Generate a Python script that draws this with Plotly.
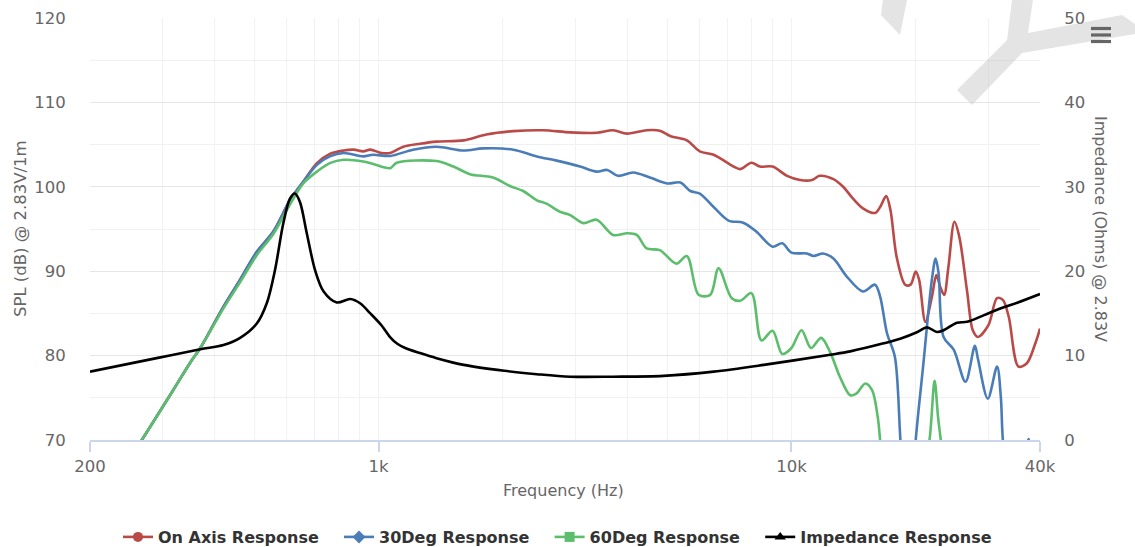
import plotly.graph_objects as go

# ---------------- data ----------------
on_axis_freq = [200, 240, 267, 290, 318, 349, 370, 421, 462, 507, 556, 610, 657, 709, 762, 823, 870, 918,
                955, 1016, 1066, 1148, 1260, 1382, 1608, 1824, 2120, 2500, 2912, 3374, 3700, 4000, 4460,
                4800, 5100, 5580, 6000, 6480, 7240, 7520, 8000, 8390, 9000, 9760, 10500, 11220, 11700,
                12640, 13340, 14100, 14900, 15940, 16400, 16960, 17370, 17980, 18860, 19430, 20000,
                20380, 21100, 21900, 22440, 22980, 23440, 24000, 24820, 25500, 26640, 27500, 28300,
                30000, 31480, 32520, 33600, 35480, 37180, 39000, 40000]
on_axis_spl = [61, 66.5, 70, 72.8, 75.9, 79.1, 80.9, 85.8, 89.0, 92.3, 94.7, 98.4, 100.6, 102.8, 103.9, 104.3,
               104.4, 104.2, 104.4, 104.0, 104.0, 104.75, 105.1, 105.35, 105.5, 106.2, 106.6, 106.7, 106.45,
               106.4, 106.7, 106.3, 106.7, 106.65, 106.0, 105.5, 104.2, 103.8, 102.4, 102.1, 102.85, 102.4,
               102.4, 101.3, 100.8, 100.8, 101.3, 100.9, 100.0, 98.6, 97.45, 96.9, 97.6, 98.9, 97.25, 91.7,
               88.4, 88.4, 89.95, 89.0, 84.0, 87.0, 89.55, 88.0, 87.2, 90.5, 95.85, 94.1, 87.6, 83.0, 82.2,
               83.6, 86.8, 86.6, 84.6, 78.7, 79.1, 81.5, 83.2]

deg30_freq = [200, 240, 267, 318, 349, 370, 421, 462, 507, 556, 610, 657, 709, 762, 823, 918, 970, 1066,
              1212, 1382, 1608, 1790, 2120, 2418, 2700, 3076, 3374, 3580, 3800, 4140, 4540, 5000, 5380,
              5690, 6000, 6480, 7040, 7640, 8220, 9000, 9500, 10000, 10900, 11320, 11930, 12640, 13600,
              14900, 15940, 16400, 17040, 17800, 18340, 18800, 19500, 20000, 20840, 21900, 22350, 22720,
              23360, 24720, 26400, 27820, 28300, 29900, 31480, 32150, 32520, 34000, 36500, 37550, 38500,
              40000]
deg30_spl = [61, 66.5, 70, 75.9, 79.1, 80.9, 85.8, 89.0, 92.3, 94.7, 98.4, 100.6, 102.6, 103.6, 104.0, 103.6,
             103.8, 103.65, 104.4, 104.75, 104.3, 104.55, 104.4, 103.6, 103.1, 102.4, 101.8, 102.0, 101.3,
             101.7, 101.1, 100.4, 100.5, 99.5, 99.2, 97.6, 96.0, 95.75, 94.7, 92.9, 93.3, 92.2, 92.1, 91.8,
             92.1, 91.5, 89.4, 87.6, 88.4, 87.0, 82.65, 79.9, 70.5, 62, 62, 70, 78.7, 89.1, 91.5, 89.75,
             82.2, 80.7, 76.9, 81.15, 79.6, 74.9, 78.7, 75.1, 70.0, 62, 66, 70.1, 64, 60]

deg60_freq = [200, 240, 267, 318, 349, 370, 421, 462, 507, 556, 610, 657, 709, 762, 823, 918, 970, 1066,
              1106, 1382, 1518, 1664, 1892, 2080, 2240, 2418, 2550, 2750, 2912, 3134, 3374, 3700, 4000,
              4220, 4460, 4800, 5260, 5580, 5960, 6360, 6660, 7170, 7520, 8000, 8460, 9000, 9500, 10000,
              10580, 11150, 11800, 12400, 13100, 13880, 14360, 15100, 15680, 16180, 16400, 17000, 20000,
              21600, 22220, 22650, 23000, 24000, 30000, 40000]
deg60_spl = [61, 66.5, 70, 75.9, 79.1, 80.9, 85.6, 88.7, 91.9, 94.4, 97.9, 100.4, 101.8, 102.8, 103.2, 103.0,
             102.7, 102.2, 102.85, 103.05, 102.4, 101.5, 101.1, 100.1, 99.5, 98.4, 98.0, 97.05, 96.65, 95.7,
             96.1, 94.3, 94.5, 94.3, 92.7, 92.5, 90.9, 91.8, 87.2, 87.2, 90.35, 86.8, 86.5, 87.4, 81.8,
             82.95, 80.2, 80.9, 83.0, 80.9, 82.1, 80.45, 77.5, 75.3, 75.5, 76.7, 75.9, 72.75, 70, 62, 60,
             70, 77.0, 72.75, 70, 62, 58, 58]

imp_freq = [200, 290, 370, 421, 462, 507, 536, 561, 588, 610, 627, 645, 670, 702, 736, 792, 854, 902, 955,
            1016, 1066, 1110, 1160, 1260, 1382, 1608, 2015, 2418, 2912, 3700, 4900, 6480, 8570, 12420,
            13880, 16720, 18340, 20200, 21280, 22520, 23360, 25180, 26640, 29280, 32160, 35360, 40000]
imp_ohm = [8.1, 9.7, 10.75, 11.25, 12.1, 13.8, 16.2, 20.1, 25.7, 28.6, 29.2, 28.2, 24.5, 20.1, 17.6, 16.3,
           16.7, 16.2, 15.0, 13.6, 12.2, 11.4, 10.9, 10.3, 9.7, 8.9, 8.2, 7.8, 7.5, 7.5, 7.6, 8.1, 8.9,
           10.1, 10.5, 11.45, 12.0, 12.8, 13.35, 12.8, 13.0, 13.9, 14.0, 14.8, 15.6, 16.3, 17.3]

x_tick_vals = [200, 1000, 10000, 40000]
x_tick_text = ["200", "1k", "10k", "40k"]
x_minor_vals = [300, 400, 500, 600, 700, 800, 900, 2000, 3000, 4000, 5000, 6000, 7000, 8000, 9000,
                20000, 30000]

series_names = ["On Axis Response", "30Deg Response", "60Deg Response", "Impedance Response"]
series_colors = ["#BA4A48", "#4A7DB8", "#5CBE6D", "#000000"]
legend_symbols = ["circle", "diamond", "square", "triangle-up"]

FONT = "DejaVu Sans"
W, H = 1135, 547
L, R, T, B = 90, 95, 18, 107


def px_x(px):
    return (px - L) / (W - L - R)


def px_y(py):
    return (H - B - py) / (H - T - B)


fig = go.Figure()

data = [(on_axis_freq, on_axis_spl, "y"), (deg30_freq, deg30_spl, "y"),
        (deg60_freq, deg60_spl, "y"), (imp_freq, imp_ohm, "y2")]
for (fx, fy, ax), name, col in zip(data, series_names, series_colors):
    fig.add_trace(go.Scatter(x=fx, y=fy, yaxis=ax, mode="lines", name=name, showlegend=False,
                             line=dict(color=col, width=2.6, shape="spline", smoothing=0.9),
                             hoverinfo="x+y+name"))

# legend entries (trailing non-breaking spaces widen the gap between items)
for name, col, sym in zip(series_names, series_colors, legend_symbols):
    fig.add_trace(go.Scatter(x=[None], y=[None], mode="lines+markers",
                             name="<b>%s</b>" % name + "\u00a0\u00a0\u00a0",
                             line=dict(color=col, width=2.6),
                             marker=dict(symbol=sym, size=10, color=col), showlegend=True))

# watermark
wm1 = [(883, 0), (881, 15), (900, 35), (907, 0)]
wm2 = [(957, 90), (1007, 40), (1012, 0), (1033, 0), (1028, 33), (1122, 15), (1135, 24), (1135, 34),
       (1022, 53), (972, 105)]
shapes = []
for poly in (wm1, wm2):
    path = "M " + " L ".join("%.4f,%.4f" % (px_x(a), px_y(b)) for a, b in poly) + " Z"
    shapes.append(dict(type="path", path=path, xref="paper", yref="paper",
                       fillcolor="rgba(190,190,190,0.42)", line=dict(width=0), layer="above"))
# hamburger menu icon
for yy in (28.5, 35.0, 41.5):
    shapes.append(dict(type="line", xref="paper", yref="paper", x0=px_x(1091), x1=px_x(1111),
                       y0=px_y(yy), y1=px_y(yy), line=dict(color="#666666", width=3.2), layer="above"))

annotations = [
    dict(text="SPL (dB) @ 2.83V/1m", x=px_x(20), y=0.5, xref="paper", yref="paper", textangle=-90,
         showarrow=False, font=dict(family=FONT, size=16.5, color="#666666"), xanchor="center",
         yanchor="middle"),
    dict(text="Impedance (Ohms) @ 2.83V", x=px_x(1101), y=0.5, xref="paper", yref="paper", textangle=90,
         showarrow=False, font=dict(family=FONT, size=16, color="#666666"), xanchor="center",
         yanchor="middle"),
    dict(text="Frequency (Hz)", x=px_x(563), y=px_y(490), xref="paper", yref="paper",
         showarrow=False, font=dict(family=FONT, size=16, color="#666666"), xanchor="center",
         yanchor="middle"),
]

fig.update_layout(
    width=W, height=H,
    margin=dict(l=L, r=R, t=T, b=B, autoexpand=False),
    paper_bgcolor="white", plot_bgcolor="white",
    font=dict(family=FONT, size=16, color="#666666"),
    showlegend=True,
    legend=dict(orientation="h", x=0.5, xanchor="center", y=px_y(537), yanchor="middle",
                font=dict(family=FONT, size=16, color="#333333"), itemwidth=30,
                bgcolor="rgba(0,0,0,0)"),
    xaxis=dict(type="log", range=[2.30103, 4.60206], tickvals=x_tick_vals, ticktext=x_tick_text,
               showgrid=True, gridcolor="#f2f2f2", gridwidth=1,
               showline=True, linecolor="#ccd6eb", linewidth=1.5,
               ticks="outside", ticklen=10, tickcolor="#ccd6eb", tickwidth=1.5,
               tickfont=dict(family=FONT, size=16.5, color="#666666"),
               minor=dict(tickvals=x_minor_vals, showgrid=True, gridcolor="#f2f2f2", ticks=""),
               zeroline=False, fixedrange=True, automargin=False),
    yaxis=dict(range=[70, 120], dtick=10, tick0=70, showgrid=True, gridcolor="#e6e6e6",
               showline=False, zeroline=False, ticks="outside", ticklen=20,
               tickcolor="rgba(0,0,0,0)", tickfont=dict(family=FONT, size=16.5, color="#666666"),
               minor=dict(dtick=5, tick0=70, showgrid=True, gridcolor="#f0f0f0", ticks=""),
               automargin=False, fixedrange=True),
    yaxis2=dict(range=[0, 50], dtick=10, tick0=0, overlaying="y", side="right", showgrid=False,
                showline=False, zeroline=False, ticks="outside", ticklen=20,
                tickcolor="rgba(0,0,0,0)", tickfont=dict(family=FONT, size=16.5, color="#666666"),
                automargin=False, fixedrange=True),
    shapes=shapes,
    annotations=annotations,
)

fig.write_html("out.html", config={"displayModeBar": False},
               post_script="document.body.style.margin='0';document.body.style.padding='0';")
